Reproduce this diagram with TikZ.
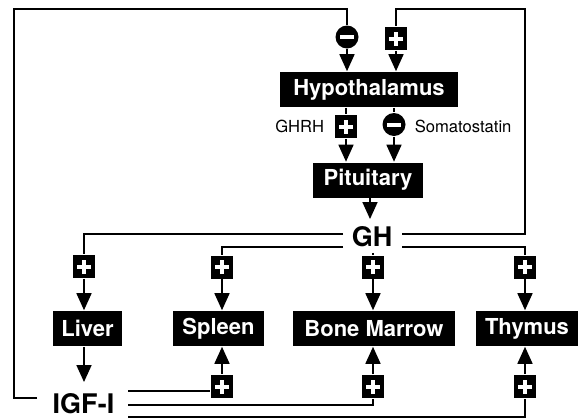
\documentclass[tikz,border=0pt]{standalone}
\usepackage{fontspec}
\setmainfont{TeX Gyre Heros}
\usetikzlibrary{arrows.meta}
\begin{document}
\begin{tikzpicture}[x=1pt,y=-1pt, line width=1.6pt,
  box/.style={fill=black, text=white, font=\fontsize{22}{24}\selectfont\bfseries, minimum height=35pt, inner sep=0pt},
  plusbox/.style={fill=black, minimum width=22pt, minimum height=23pt, inner sep=0pt, path picture={
     \draw[white, line width=4pt] ([xshift=-7pt]path picture bounding box.center) -- ([xshift=7pt]path picture bounding box.center);
     \draw[white, line width=4pt] ([yshift=-7pt]path picture bounding box.center) -- ([yshift=7pt]path picture bounding box.center);}},
  minuscirc/.style={circle, fill=black, minimum size=23pt, inner sep=0pt, path picture={
     \draw[white, line width=4pt] ([xshift=-7pt]path picture bounding box.center) -- ([xshift=7pt]path picture bounding box.center);}},
  big/.style={font=\fontsize{27}{29}\selectfont\bfseries, inner sep=0pt},
  lab/.style={font=\fontsize{16.6}{18}\selectfont, inner sep=0pt},
  arr/.style={-{Triangle[length=17pt,width=15pt]}},
]
\useasboundingbox (0,0) rectangle (581,418);

% main nodes
\node[box, minimum width=178pt] (hyp) at (369,89.5) {Hypothalamus};
\node[box, minimum width=110pt] (pit) at (368,180) {Pituitary};
\node[big] (gh) at (372,237) {GH};
\node[box, minimum width=69pt] (liver) at (87.5,328.5) {Liver};
\node[box, minimum width=91pt] (spleen) at (218.5,328.5) {Spleen};
\node[box, minimum width=162pt] (bm) at (374,328.5) {Bone Marrow};
\node[box, minimum width=102pt] (thy) at (527,328.5) {Thymus};
\node[big] (igf) at (83.5,404) {IGF-I};

% signs
\node[minuscirc] (m1) at (347,37) {};
\node[plusbox] (p1) at (396,38.5) {};
\node[plusbox] (p2) at (346,126.5) {};
\node[minuscirc] (m2) at (394,124.5) {};
\node[lab, anchor=east] (ghrh) at (325,126) {GHRH};
\node[lab, anchor=west] (som) at (414,126) {Somatostatin};
\node[plusbox] (p3) at (84,266.5) {};
\node[plusbox] (p4) at (222,267) {};
\node[plusbox] (p5) at (373,267) {};
\node[plusbox] (p6) at (525,267) {};
\node[plusbox] (p7) at (222,386.5) {};
\node[plusbox] (p8) at (373,386.5) {};
\node[plusbox] (p9) at (525,386.5) {};

% helper coordinates
\coordinate (tl) at (14,9);
\coordinate (tr) at (525,9);
\coordinate (bl) at (14,398);
\coordinate (igfL) at (37,398);
\coordinate (ghR1) at (402,234);
\coordinate (ghR2) at (402,247);
\coordinate (ghL1) at (343,234);
\coordinate (ghL2) at (343,247);
\coordinate (i1) at (128,391);
\coordinate (i2) at (128,405);
\coordinate (i3) at (128,417);

% feedback loops
\draw (igfL) -- (bl) -- (tl) -- (tl -| m1) -- (m1);
\draw[arr] (m1) -- (hyp.north -| m1);
\draw (ghR1) -- (ghR1 -| tr) -- (tr) -- (tr -| p1) -- (p1);
\draw[arr] (p1) -- (hyp.north -| p1);

% hypothalamus -> pituitary
\draw (hyp.south -| p2) -- (p2);
\draw[arr] (p2) -- (pit.north -| p2);
\draw (hyp.south -| m2) -- (m2);
\draw[arr] (m2) -- (pit.north -| m2);

% pituitary -> GH
\draw[arr, shorten >=7pt] ([xshift=2pt]pit.south) -- ([xshift=2pt]pit.south |- gh.north);

% GH -> organs
\draw (ghL1) -- (ghL1 -| p3) -- (p3);
\draw[arr] (p3) -- (liver.north -| p3);
\draw (ghL2) -- (ghL2 -| p4) -- (p4);
\draw[arr] (p4) -- (spleen.north -| p4);
\draw[shorten <=5pt] (gh.south -| p5) -- (p5);
\draw[arr] (p5) -- (bm.north -| p5);
\draw (ghR2) -- (ghR2 -| p6) -- (p6);
\draw[arr] (p6) -- (thy.north -| p6);

% liver -> IGF-I
\draw[arr, shorten >=11pt] (liver.south -| p3) -- (igf.north -| p3);

% IGF-I -> organs
\draw (i1) -- (i1 -| p7.west);
\draw[arr] (p7) -- (spleen.south -| p7);
\draw (i2) -- (i2 -| p8) -- (p8);
\draw[arr] (p8) -- (bm.south -| p8);
\draw (i3) -- (i3 -| p9) -- (p9);
\draw[arr] (p9) -- (thy.south -| p9);
\end{tikzpicture}
\end{document}
